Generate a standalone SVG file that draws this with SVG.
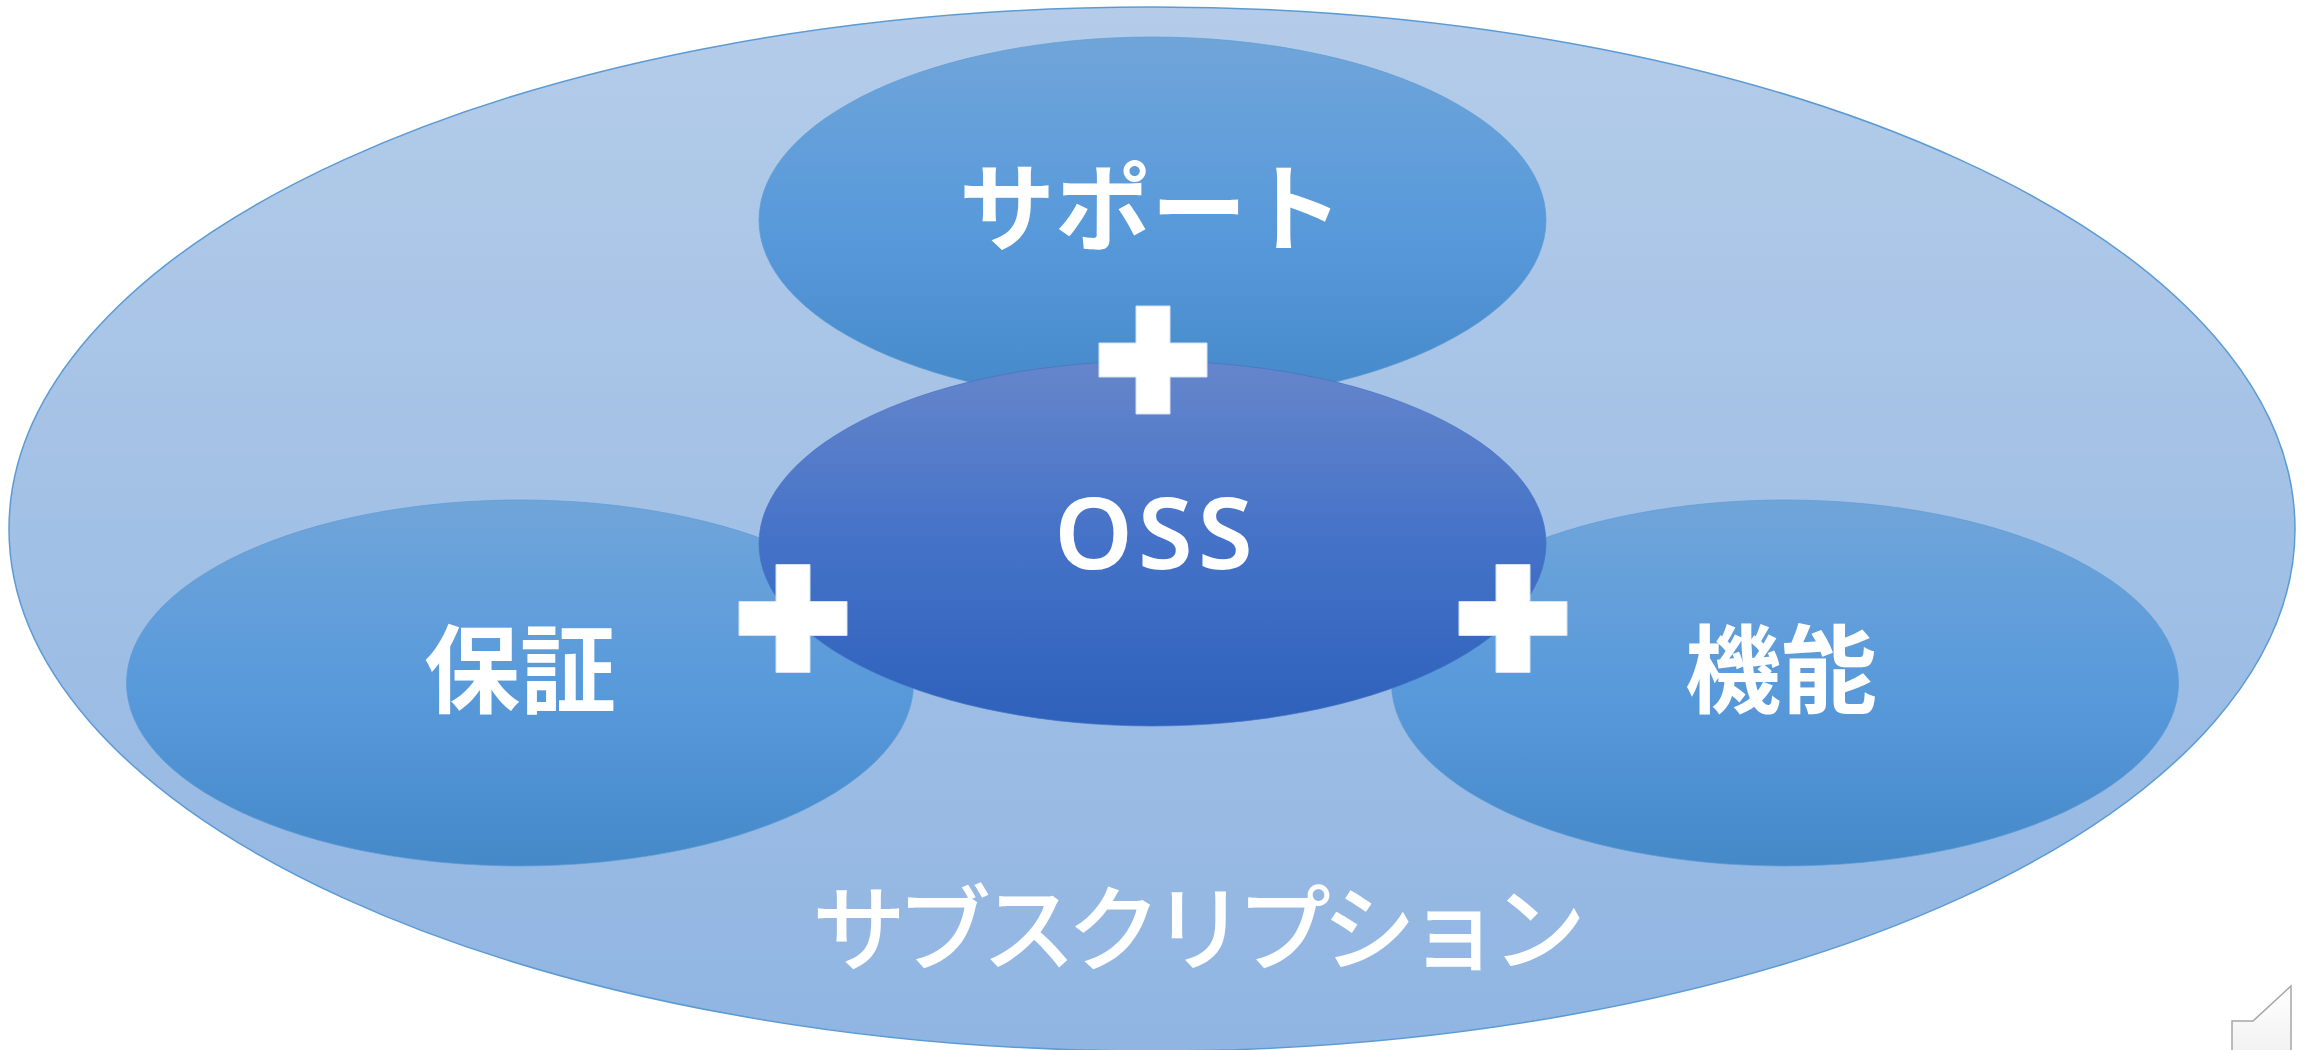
<svg xmlns="http://www.w3.org/2000/svg" width="2305" height="1050" viewBox="0 0 2305 1050">
  <defs>
    <linearGradient id="gBig" x1="0" y1="0" x2="0" y2="1">
      <stop offset="0" stop-color="#B4CCE9"/>
      <stop offset="1" stop-color="#90B5E2"/>
    </linearGradient>
    <linearGradient id="gBlue" x1="0" y1="0" x2="0" y2="1">
      <stop offset="0" stop-color="#70A5D9"/>
      <stop offset="0.5" stop-color="#599ADB"/>
      <stop offset="1" stop-color="#4589C9"/>
    </linearGradient>
    <linearGradient id="gOss" x1="0" y1="0" x2="0" y2="1">
      <stop offset="0" stop-color="#6686CB"/>
      <stop offset="0.5" stop-color="#4472C8"/>
      <stop offset="1" stop-color="#2E61BB"/>
    </linearGradient>
    <linearGradient id="gCurl" x1="0" y1="0" x2="0" y2="1">
      <stop offset="0" stop-color="#FFFFFF"/>
      <stop offset="1" stop-color="#F2F2F2"/>
    </linearGradient>
    <path id="plus" d="M-17,-54 H17 V-17 H54 V17 H17 V54 H-17 V17 H-54 V-17 H-17 Z"/>
  </defs>
  <style>
    .big { fill: url(#gBig); stroke: #5B9BD5; stroke-width: 1.5; }
    .sub { fill: url(#gBlue); stroke: #5B9BD5; stroke-width: 1; stroke-opacity: 0.7; }
    .oss { fill: url(#gOss); stroke: #4472C4; stroke-width: 1; stroke-opacity: 0.7; }
    .plus { fill: #FFFFFF; stroke: #D6E2F3; stroke-width: 1; }
    .jp { font-family: "Noto Sans CJK JP", "Noto Sans CJK SC", sans-serif; fill: #FFFFFF; }
    .lbl { font-size: 96px; font-weight: 700; text-anchor: middle; }
    .en { font-family: "Noto Sans", "Open Sans", "DejaVu Sans", sans-serif; font-size: 100px; font-weight: 600; fill: #FFFFFF; text-anchor: middle; letter-spacing: 5px; }
  </style>

  <g id="subscription">
    <ellipse class="big" cx="1152" cy="529" rx="1143" ry="522"/>
    <text class="jp" x="1199" y="964" font-size="94" font-weight="500" text-anchor="middle" textLength="774" lengthAdjust="spacing">サブスクリプション</text>
  </g>

  <g id="support">
    <ellipse class="sub" cx="1152.5" cy="220" rx="393.5" ry="183"/>
    <text class="jp lbl" x="1151" y="243">サポート</text>
  </g>

  <g id="guarantee">
    <ellipse class="sub" cx="520" cy="683" rx="393.5" ry="183"/>
    <text class="jp lbl" x="520" y="705">保証</text>
  </g>

  <g id="function">
    <ellipse class="sub" cx="1785" cy="683" rx="393.5" ry="183"/>
    <text class="jp lbl" x="1781" y="705">機能</text>
  </g>

  <g id="oss">
    <ellipse class="oss" cx="1152.5" cy="543.5" rx="393.5" ry="182.5"/>
    <text class="en" x="1156" y="569">OSS</text>
  </g>

  <g id="connectors">
    <use href="#plus" class="plus" x="1153" y="360"/>
    <use href="#plus" class="plus" x="793" y="618.5"/>
    <use href="#plus" class="plus" x="1513" y="618.5"/>
  </g>

  <g id="corner">
    <path d="M2232,1051 V1021 H2253 L2291,986 V1051" fill="url(#gCurl)" stroke="#A6A6A6" stroke-width="1.5"/>
  </g>
</svg>
